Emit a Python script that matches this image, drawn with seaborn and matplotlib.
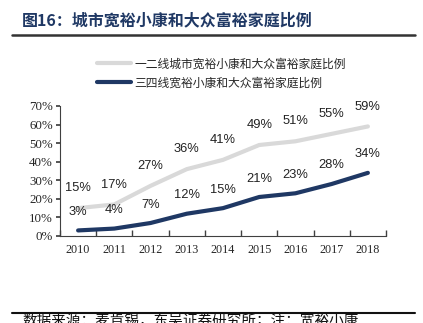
import matplotlib
matplotlib.use("Agg")
import matplotlib.pyplot as plt
import seaborn as sns
import pandas as pd
from matplotlib.lines import Line2D

years = ["2010", "2011", "2012", "2013", "2014", "2015", "2016", "2017", "2018"]
tier12 = [15, 17, 27, 36, 41, 49, 51, 55, 59]
tier34 = [3, 4, 7, 12, 15, 21, 23, 28, 34]
name12 = "一二线城市宽裕小康和大众富裕家庭比例"
name34 = "三四线宽裕小康和大众富裕家庭比例"
yticks = [0, 10, 20, 30, 40, 50, 60, 70]

sns.set_theme(style="white")
plt.rcParams['font.family'] = ['Noto Sans CJK SC', 'DejaVu Sans']

c12 = "#d9d9d9"
c34 = "#1f3864"

df = pd.DataFrame({
    "x": list(range(len(years))) * 2,
    "v": tier12 + tier34,
    "s": [name12] * len(years) + [name34] * len(years),
})

fig = plt.figure(figsize=(4.23, 3.23), dpi=100)
ax = fig.add_axes([60 / 423, 1 - 236 / 323, (386 - 60) / 423, (236 - 106) / 323])
sns.lineplot(data=df, x="x", y="v", hue="s", palette={name12: c12, name34: c34},
             linewidth=3, ax=ax, legend=False)

ax.set_xlim(-0.5, len(years) - 0.5)
ax.set_ylim(0, 70)
ax.set_yticks(yticks)
ax.set_yticklabels([f"{t}%" for t in yticks], family="Liberation Serif", fontsize=9.3)
ax.set_xticks(range(len(years)))
ax.set_xticklabels(years, family="Liberation Serif", fontsize=8.7)
ax.tick_params(axis="x", length=0, pad=6)
ax.tick_params(axis="y", length=3, direction="out", color="#404040", left=True, pad=2)
ax.set_xticks([i - 0.5 for i in range(len(years) + 1)], minor=True)
ax.tick_params(axis="x", which="minor", length=4, direction="in", color="#404040", bottom=True)
for s in ["top", "right"]:
    ax.spines[s].set_visible(False)
for s in ["left", "bottom"]:
    ax.spines[s].set_color("#404040")
    ax.spines[s].set_linewidth(0.8)
ax.set_xlabel("")
ax.set_ylabel("")
ax.grid(False)

for i, v in enumerate(tier12):
    ax.annotate(f"{v}%", (i, v), xytext=(0, 10), textcoords="offset points",
                ha="center", va="bottom", family="Liberation Sans", fontsize=9.3, color="#222222")
for i, v in enumerate(tier34):
    ax.annotate(f"{v}%", (i, v), xytext=(0, 9), textcoords="offset points",
                ha="center", va="bottom", family="Liberation Sans", fontsize=9.3, color="#222222")

handles = [Line2D([0], [0], color=c12, lw=3), Line2D([0], [0], color=c34, lw=3)]
fig.legend(handles, [name12, name34], loc="upper left", bbox_to_anchor=(86 / 423, 1 - 47 / 323),
           frameon=False, handlelength=2.9, handletextpad=0.3, labelspacing=0.5,
           prop={"family": ["Noto Sans CJK SC"], "size": 8.5})

fig.text(22 / 423, 1 - 20 / 323, "图16：城市宽裕小康和大众富裕家庭比例", fontsize=11.5,
         fontweight="bold", color="#1f3864", va="center", ha="left")
fig.add_artist(Line2D([12 / 423, 415 / 423], [1 - 35 / 323, 1 - 35 / 323], color="#333333", lw=1.8))
fig.add_artist(Line2D([12 / 423, 415 / 423], [1 - 313 / 323, 1 - 313 / 323], color="#111111", lw=1.5))
fig.text(22 / 423, 1 - 328 / 323, "数据来源：麦肯锡，东吴证券研究所；注：宽裕小康", fontsize=10.5,
         color="#111111", va="bottom", ha="left")

fig.savefig("out.png", dpi=100)
